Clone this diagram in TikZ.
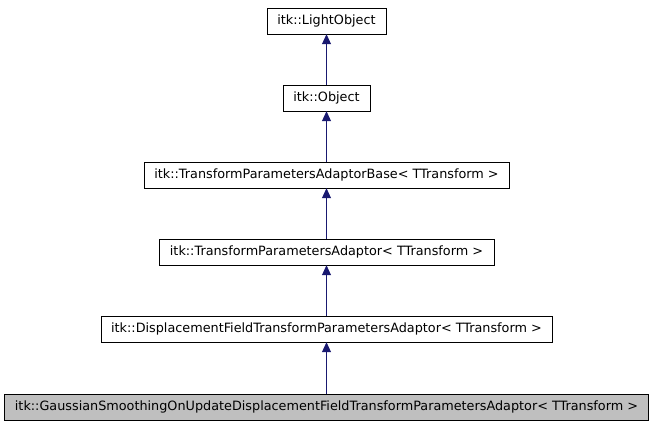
\documentclass[tikz,border=0pt]{standalone}
\usepackage{fontspec}
\setmainfont{DejaVu Sans}
\usetikzlibrary{arrows.meta}
\definecolor{edge}{RGB}{25,25,112}
\begin{document}
\begin{tikzpicture}[x=1pt,y=-1pt,
  cls/.style={draw=black,fill=white,minimum height=26pt,inner sep=0pt,font=\fontsize{12.8}{14}\selectfont},
  inh/.style={draw=edge,line width=0.8pt,-{Triangle[width=9pt,length=10pt,fill=edge]}}]
\useasboundingbox (0,0) rectangle (653,427);
\node[cls,minimum width=119pt] (a) at (326.5,21) {itk::LightObject};
\node[cls,minimum width=87pt] (b) at (326.5,98) {itk::Object};
\node[cls,minimum width=365pt] (c) at (326.5,175) {itk::TransformParametersAdaptorBase< TTransform >};
\node[cls,minimum width=335pt] (d) at (326.5,252) {itk::TransformParametersAdaptor< TTransform >};
\node[cls,minimum width=451pt] (e) at (326.5,329) {itk::DisplacementFieldTransformParametersAdaptor< TTransform >};
\node[cls,minimum width=644pt,fill={rgb,255:red,191;green,191;blue,191}] (f) at (326.5,407) {itk::GaussianSmoothingOnUpdateDisplacementFieldTransformParametersAdaptor< TTransform >};
\draw[inh] (b) -- (a);
\draw[inh] (c) -- (b);
\draw[inh] (d) -- (c);
\draw[inh] (e) -- (d);
\draw[inh] (f) -- (e);
\end{tikzpicture}
\end{document}
